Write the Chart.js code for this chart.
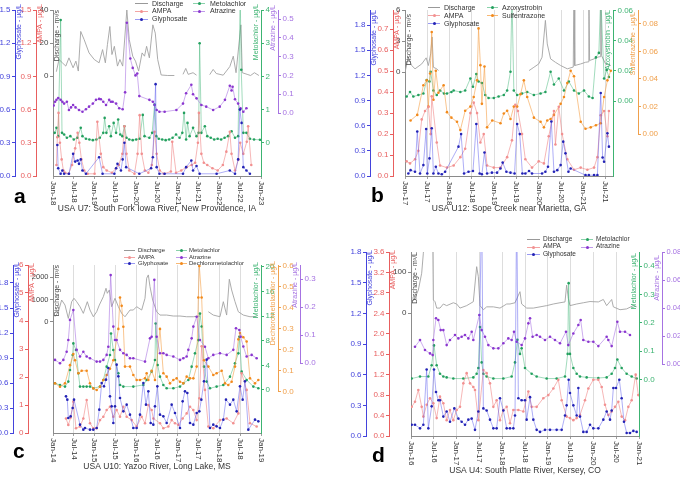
<!DOCTYPE html>
<html><head><meta charset="utf-8">
<script src="https://cdn.jsdelivr.net/npm/chart.js@4.4.1/dist/chart.umd.min.js"></script>
<style>
html,body{margin:0;padding:0;background:#fff;}
body{width:680px;height:477px;position:relative;overflow:hidden;font-family:'Liberation Sans',Arial,sans-serif;}
canvas{position:absolute;}
.tag{position:absolute;font-weight:bold;font-size:21px;line-height:1;color:#000;}
.lg{position:absolute;white-space:nowrap;color:#333;line-height:1;}
.sw{position:absolute;height:1px;}
.dot{position:absolute;width:3px;height:3px;border-radius:50%;}
</style></head><body>
<canvas id="ca" width="300" height="222" style="left:0;top:0"></canvas>
<canvas id="cb" width="340" height="222" style="left:340px;top:0"></canvas>
<canvas id="cc" width="340" height="237" style="left:0;top:240px"></canvas>
<canvas id="cd" width="340" height="237" style="left:340px;top:240px"></canvas>
<div class="tag" style="left:14px;top:185px">a</div>
<div class="tag" style="left:371px;top:184px">b</div>
<div class="tag" style="left:13px;top:440px">c</div>
<div class="tag" style="left:372px;top:444px">d</div>
<script>
// ---------- tick labels ----------
const aXLabels = ['Jan-18','Jul-18','Jan-19','Jul-19','Jan-20','Jul-20','Jan-21','Jul-21','Jan-22','Jul-22','Jan-23'];
const bXLabels = ['Jan-17','Jul-17','Jan-18','Jul-18','Jan-19','Jul-19','Jan-20','Jul-20','Jan-21','Jul-21'];
const cXLabels = ['Jan-14','Jul-14','Jan-15','Jul-15','Jan-16','Jul-16','Jan-17','Jul-17','Jan-18','Jul-18','Jan-19'];
const dXLabels = ['Jan-16','Jul-16','Jan-17','Jul-17','Jan-18','Jul-18','Jan-19','Jul-19','Jan-20','Jul-20','Jan-21'];
const xTicks60 = [0,6,12,18,24,30,36,42,48,54,60];
const xTicks54 = [0,6,12,18,24,30,36,42,48,54];

const aGlyTicks = [0,0.3,0.6,0.9,1.2,1.5], aAmpaTicks = [0,0.3,0.6,0.9,1.2,1.5], aDisTicks = [0,20,40], aMetTicks = [0,1,2,3,4], aAtrTicks = [0,0.1,0.2,0.3,0.4,0.5];
const bGlyTicks = [0,0.3,0.6,0.9,1.2,1.5,1.8], bAmpaTicks = [0,0.1,0.2,0.3,0.4,0.5,0.6,0.7], bDisTicks = [0,3,6], bAzoTicks = [0,0.02,0.04,0.06], bSulTicks = [0,0.02,0.04,0.06,0.08];
const cGlyTicks = [0,0.3,0.6,0.9,1.2,1.5,1.8], cAmpaTicks = [0,1,2,3,4,5,6], cDisTicks = [0,1000,2000], cMetTicks = [0,4,8,12,16,20], cDecTicks = [0,0.1,0.2,0.3,0.4,0.5,0.6], cAtrTicks = [0,0.1,0.2,0.3];
const dGlyTicks = [0,0.3,0.6,0.9,1.2,1.5,1.8], dAmpaTicks = [0,0.4,0.8,1.2,1.6,2.0,2.4,2.8,3.2,3.6], dDisTicks = [0,100], dMetTicks = [0,0.1,0.2,0.3,0.4], dAtrTicks = [0,0.02,0.04,0.06,0.08];

// ---------- panel a (months since Jan-18, value) ----------
const aDischarge = [[0.97,2.6],[1.74,10],[2.7,8],[3.7,6],[4.6,11],[5.8,5],[6.6,9],[7.3,3],[8.0,27],[9.0,22],[10.4,14],[11.9,10],[13.3,8],[14.3,16],[15.1,8],[15.7,19],[16.4,30],[17.0,13],[17.7,18],[18.6,6],[19.3,10],[20.1,6],[21.3,40],[22.0,22],[23.0,12],[23.8,9],[24.7,3],[25.7,14],[26.4,12],[27.0,18],[27.8,11],[28.8,31],[29.5,26],[30.2,10],[31.2,0.6],[33.1,0.3],[35.0,0.3],[35.8,null],[37.5,1],[38.3,4.6],[39.0,1],[40.4,2],[41.4,0.5],[42.5,null],[45.2,0.8],[46.2,4],[47.1,1.5],[49.1,0.5],[51.0,5.7],[52.0,12],[52.8,2],[54.2,31],[54.6,2],[56.0,1],[57.0,0.3],[58.1,2],[59.4,0.3]];
const aAMPA = [[1.0,0.1],[1.25,0.35],[1.6,0.57],[2.0,0.3],[2.5,0.15],[3.0,0.05],[3.5,0.03],[4.5,0.02],[5.5,0.1],[6.4,0.25],[7.1,0.39],[7.6,0.3],[8.2,0.15],[9.0,0.05],[10.0,0.02],[12.0,0.02],[12.8,0.49],[13.8,0.2],[14.5,0.08],[15.5,0.05],[17.0,0.03],[18.2,0.07],[19.0,0.1],[20.0,0.2],[20.6,0.45],[21.2,0.2],[22.0,0.05],[23.5,0.02],[24.4,0.2],[25.0,0.55],[25.6,0.2],[26.5,0.05],[27.5,0.03],[28.5,0.1],[29.3,0.4],[29.9,0.2],[30.8,0.05],[32.0,0.02],[34.0,0.04],[34.4,0.31],[35.5,0.03],[37.0,0.05],[38.5,0.08],[40.0,0.1],[41.0,0.12],[41.8,0.3],[42.1,0.57],[42.8,0.2],[43.5,0.12],[44.5,0.1],[46.0,0.07],[47.5,0.05],[49.0,0.1],[50.0,0.22],[51.0,0.4],[51.5,0.2],[52.5,0.05],[53.5,0.15],[54.0,0.3],[54.9,0.2],[55.9,0.31],[56.3,0.45],[57.2,0.1]];
const aGlyphosate = [[1.25,0.28],[1.5,0.07],[2.2,0.02],[2.7,0.05],[3.2,0.02],[4.6,0.02],[5.8,0.2],[6.4,0.13],[7.1,0.14],[7.5,0.11],[8.0,0.15],[8.5,0.05],[9.5,0.02],[13.3,0.17],[14.3,0.02],[17.7,0.02],[18.2,0.07],[18.6,0.11],[19.6,0.05],[20.1,0.15],[20.6,0.3],[21.1,0.08],[24.9,0.02],[28.3,0.07],[28.8,0.17],[29.6,0.83],[29.9,0.08],[30.7,0.02],[32.2,0.02],[37.5,0.02],[38.4,0.08],[39.9,0.14],[40.4,0.05],[41.4,0.09],[42.3,0.02],[47.2,0.02],[51.0,0.05],[52.5,0.02],[53.4,0.15],[53.9,0.6],[54.4,0.48],[54.9,0.08],[55.8,0.05],[56.8,0.02]];
const aMetolachlor = [[0.5,0.3],[1.0,0.45],[1.5,0.2],[2.2,3.7],[2.6,0.3],[3.2,0.25],[4.0,0.15],[5.0,0.2],[6.0,0.1],[7.0,0.15],[8.0,0.45],[8.5,0.2],[9.5,0.12],[10.5,0.1],[11.5,0.08],[12.5,0.1],[13.5,0.15],[14.5,0.3],[14.9,0.75],[15.4,0.3],[16.2,0.5],[16.7,0.2],[17.5,0.6],[18.2,0.3],[18.8,0.7],[19.4,0.25],[20.0,0.2],[20.6,0.5],[21.2,0.15],[22.0,0.1],[23.0,0.08],[24.0,0.1],[25.0,0.12],[25.9,0.84],[26.4,0.2],[27.8,0.15],[28.6,0.3],[29.3,1.15],[29.8,0.2],[30.5,0.12],[31.5,0.1],[32.5,0.08],[33.5,0.1],[34.5,0.15],[35.5,0.25],[36.5,0.15],[37.3,0.3],[37.8,0.9],[38.4,0.1],[38.8,0.6],[39.4,0.2],[40.4,0.45],[41.4,0.2],[42.0,0.3],[42.3,3.0],[42.8,0.3],[43.8,0.5],[44.5,0.2],[45.5,0.15],[46.5,0.1],[47.5,0.12],[48.5,0.1],[49.5,0.15],[50.5,0.2],[51.5,0.35],[52.5,0.15],[53.4,0.2],[54.0,4.5],[54.3,2.2],[54.9,0.3],[55.8,0.3],[56.8,0.12],[58.0,0.1],[59.7,0.09]];
const aAtrazine = [[0.2,0.04],[0.6,0.06],[1.0,0.07],[1.5,0.08],[2.2,0.07],[2.7,0.06],[3.2,0.05],[4.0,0.06],[4.6,0.016],[5.2,0.03],[5.8,0.043],[6.5,0.03],[7.5,0.016],[8.5,0.007],[9.5,0.02],[10.4,0.034],[11.5,0.05],[12.4,0.07],[13.3,0.075],[13.8,0.073],[14.5,0.06],[15.3,0.043],[16.2,0.07],[16.7,0.06],[17.2,0.06],[18.2,0.05],[19.1,0.025],[20.1,0.02],[20.8,0.11],[21.3,0.48],[22.3,0.29],[23.0,0.24],[23.8,0.2],[24.3,0.21],[24.9,0.09],[27.8,0.07],[28.8,0.06],[29.3,0.043],[29.9,0.016],[30.7,0.007],[32.2,0.007],[35.6,0.016],[37.5,0.05],[38.4,0.105],[39.9,0.15],[40.4,0.1],[41.4,0.078],[42.8,0.043],[44.2,0.034],[46.2,0.016],[48.1,0.034],[49.6,0.07],[51.0,0.145],[51.5,0.12],[51.8,0.14],[52.5,0.073],[53.4,0.05],[54.1,0.025],[54.9,0.007],[55.8,0.025]];

// ---------- panel b (months since Jan-17, value) ----------
const bDischarge = [[0,0],[0.9,1.45],[1.8,0.65],[2.7,0.33],[4.5,0.8],[5.7,1.39],[6.3,0.65],[6.9,1.77],[7.3,3.4],[7.65,0.48],[8.55,0.33],[9.0,0.16],[9.5,null],[33.4,0.16],[34.7,0.48],[36.0,0.8],[36.9,1.45],[37.8,5.0],[38.3,2.73],[39.2,1.29],[40.5,0.96],[41.9,0.65],[43.7,0.33],[45.3,0.5],[45.5,9],[45.7,0.65],[47.3,0.8],[48.6,0.96],[49.3,1.0],[49.5,9],[49.7,1.13],[50.9,1.29],[51.8,1.45],[52.5,1.5],[52.7,9],[52.9,1.61],[54.0,0.8],[55.4,0.65]];
const bAMPA = [[0.45,0.07],[1.35,0.06],[2.7,0.08],[3.6,0.12],[4.5,0.27],[5.4,0.31],[6.3,0.33],[6.9,0.2],[7.2,0.38],[8.55,0.16],[9.45,0.05],[11.3,0.04],[13.1,0.05],[14.9,0.09],[16.2,0.13],[17.6,0.3],[18.5,0.35],[19.4,0.3],[20.3,0.16],[21.2,0.2],[22.1,0.05],[23.9,0.04],[25.7,0.04],[27.5,0.09],[28.8,0.17],[29.7,0.34],[30.4,0.31],[31.5,0.2],[32.4,0.08],[34.2,0.04],[36.0,0.07],[37.4,0.06],[38.7,0.19],[40.1,0.31],[40.5,0.15],[41.4,0.33],[42.3,0.2],[43.7,0.08],[45.5,0.03],[47.3,0.04],[49.1,0.03],[50.9,0.04],[51.8,0.09],[52.7,0.29],[53.6,0.31],[54.5,0.19],[54.9,0.31]];
const bGlyphosate = [[0.9,0.03],[1.5,0.07],[2.7,0.05],[3.3,0.53],[4.05,0.03],[4.95,0.13],[5.7,0.56],[6.0,0.03],[6.6,0.21],[7.2,0.57],[7.65,0.03],[8.3,0.11],[9.0,0.03],[9.9,0.02],[10.8,0.05],[14.4,0.35],[15.1,0.5],[15.9,0.03],[17.1,0.05],[18.3,0.06],[19.2,0.62],[20.1,0.03],[20.7,0.02],[21.4,0.28],[22.1,0.03],[23.4,0.04],[24.8,0.04],[25.7,0.09],[26.3,0.16],[27.3,0.05],[28.4,0.04],[29.5,0.03],[30.2,0.62],[30.9,0.5],[31.6,0.03],[32.4,0.03],[33.4,0.06],[34.2,0.03],[36.9,0.03],[37.8,0.05],[38.5,0.11],[39.4,0.65],[40.1,0.05],[41.0,0.07],[41.9,0.13],[42.6,0.41],[43.2,0.27],[44.0,0.05],[44.6,0.09],[48.6,0.01],[49.5,0.01],[50.9,0.01],[51.8,0.01],[52.7,0.99],[53.2,0.22],[53.6,0.17],[54.5,0.51],[54.9,0.35]];
const bAzoxystrobin = [[0.45,0.003],[1.35,0.006],[2.25,0.003],[3.6,0.004],[4.95,0.005],[5.85,0.014],[6.6,0.013],[6.9,0.0195],[7.65,0.007],[8.55,0.004],[9.45,0.007],[10.5,0.005],[11.3,0.005],[12.5,0.006],[13.1,0.007],[14.9,0.006],[16.2,0.007],[17.6,0.015],[18.3,0.0095],[19.2,0.018],[19.8,0.013],[20.7,0.012],[21.6,0.004],[22.5,0.002],[23.9,0.002],[25.2,0.003],[26.6,0.004],[27.5,0.007],[28.4,0.0195],[28.8,0.07],[29.3,0.007],[30.2,0.004],[31.5,0.005],[32.9,0.006],[34.7,0.004],[36.5,0.005],[37.8,0.006],[39.2,0.0195],[40.1,0.011],[41.4,0.015],[42.8,0.007],[44.1,0.013],[45.5,0.007],[46.8,0.005],[48.2,0.007],[49.5,0.003],[50.5,0.002],[51.4,0.029],[52.2,0.032],[52.7,0.07],[53.6,0.015],[54.3,0.0206],[54.9,0.016]];
const bSulfentrazone = [[1.5,0.01],[3.3,0.014],[4.95,0.0355],[5.86,0.039],[6.3,0.02],[6.76,0.044],[7.2,0.074],[7.66,0.025],[8.3,0.046],[9.0,0.03],[10.4,0.0355],[11.3,0.016],[12.5,0.012],[14.0,0.009],[14.9,0.003],[16.2,0.017],[17.6,0.02],[18.5,0.027],[19.4,0.039],[19.8,0.0766],[20.3,0.05],[20.7,0.022],[21.4,0.049],[22.1,0.005],[23.5,0.01],[25.7,0.008],[26.6,0.015],[27.5,0.017],[28.4,0.011],[29.3,0.02],[30.2,0.02],[31.1,0.029],[32.0,0.039],[32.9,0.027],[34.7,0.012],[36.5,0.009],[37.4,0.005],[38.3,0.01],[39.2,0.011],[40.1,0.014],[41.9,0.022],[42.8,0.027],[43.7,0.037],[44.6,0.046],[45.5,0.042],[47.3,0.009],[48.6,0.004],[50.0,0.005],[51.4,0.0065],[52.7,0.008],[53.6,0.027],[54.5,0.039],[55.4,0.046]];

// ---------- panel c (months since Jan-14, value) ----------
const cDischarge = [[0.58,225],[1.54,450],[2.5,976],[3.46,751],[4.42,150],[5.38,901],[6.06,1054],[6.83,901],[7.79,676],[8.75,376],[9.9,901],[10.67,526],[11.63,225],[12.6,450],[13.36,751],[14.52,1126],[15.29,1504],[15.67,1279],[16.25,1428],[16.92,676],[17.88,1054],[18.85,676],[19.81,376],[20.77,225],[22.21,526],[23.17,526],[24.13,676],[25.58,526],[26.54,1054],[27.02,1955],[27.5,2104],[27.98,1577],[28.75,976],[29.9,450],[30.86,300],[32.79,300],[34.71,257],[36.63,257],[38.56,225],[40.48,225],[42.4,257],[43.2,null],[44.81,450],[46.24,300],[48.17,225],[49.13,901],[50.09,300],[50.86,1910],[51.53,1428],[52.5,901],[53.46,450],[54.9,300],[56.82,225],[58.75,225]];
const cAMPA = [[3.75,0.52],[4.42,0.29],[5.1,0.55],[5.87,1.12],[6.63,0.17],[7.79,0.23],[8.75,0.52],[9.71,1.18],[10.67,0.35],[11.63,0.17],[12.6,0.17],[13.56,0.46],[14.52,0.58],[15.48,0.82],[16.44,0.94],[17.4,0.58],[18.36,0.82],[19.33,0.58],[20.29,0.94],[21.25,0.58],[22.7,0.46],[24.13,0.23],[25.58,0.58],[26.54,0.35],[27.5,1.0],[28.46,0.82],[28.94,0.52],[30.86,0.35],[31.83,0.17],[33.27,0.23],[34.23,0.46],[35.19,0.35],[36.15,0.29],[37.4,0.52],[38.56,0.7],[39.52,0.94],[40.48,0.82],[41.44,0.46],[42.21,1.24],[42.88,3.1],[43.84,1.54],[44.81,0.23],[46.24,0.17],[48.17,0.46],[50.09,0.52],[52.01,0.35],[53.46,0.7],[54.42,2.13],[55.86,1.54],[56.82,0.35],[58.75,0.23]];
const cGlyphosate = [[3.75,0.44],[4.13,0.4],[4.42,0.18],[5.1,0.2],[5.67,0.3],[6.06,0.4],[7.79,0.1],[8.75,0.04],[9.23,0.06],[10.67,0.04],[11.63,0.04],[12.6,0.06],[13.36,0.28],[14.04,0.6],[14.71,0.56],[15.29,0.64],[15.96,0.78],[16.44,0.44],[16.92,0.32],[17.4,0.12],[17.88,0.32],[18.36,0.82],[18.85,0.68],[19.33,0.42],[20.29,0.26],[21.25,0.34],[22.21,0.22],[23.17,0.06],[24.13,0.06],[25.1,0.22],[26.06,0.6],[26.82,0.34],[27.5,0.5],[28.17,0.12],[28.94,0.1],[29.42,0.32],[30.1,0.56],[30.86,0.22],[31.83,0.2],[32.79,0.12],[34.23,0.34],[35.19,0.24],[36.63,0.06],[37.4,0.38],[38.07,0.5],[38.75,0.48],[39.52,0.12],[40.48,0.1],[41.44,0.24],[42.21,0.26],[42.79,0.4],[43.55,0.62],[44.32,0.88],[45.28,0.06],[46.24,0.1],[47.2,0.08],[48.17,0.06],[49.13,0.16],[49.9,0.4],[51.05,0.34],[52.01,0.4],[52.98,0.26],[53.94,0.56],[54.71,0.4],[55.38,0.62],[56.34,0.04],[58.27,0.16],[59.23,0.14]];
const cMetolachlor = [[0.58,1.08],[2.02,0.81],[3.46,0.54],[4.42,1.35],[4.9,3.24],[5.67,5.67],[5.87,7.56],[6.63,6.48],[7.31,2.7],[7.79,0.54],[8.75,0.54],[9.71,0.54],[10.67,0.54],[11.63,0.27],[13.56,0.54],[14.52,1.62],[15.48,3.78],[16.44,5.67],[16.73,9.18],[17.4,6.48],[17.88,4.86],[18.85,2.7],[19.33,0.81],[20.29,0.54],[23.17,0.54],[26.06,0.81],[27.02,1.62],[28.46,2.97],[29.42,4.86],[29.61,10.8],[30.19,4.05],[30.86,2.16],[31.83,0.81],[32.79,0.27],[34.71,0.27],[36.63,0.54],[37.59,1.08],[39.04,1.62],[40.0,3.78],[40.96,5.94],[41.92,8.1],[42.4,12.4],[42.88,10.3],[43.55,3.78],[44.32,1.35],[45.28,0.27],[47.2,0.54],[49.13,0.81],[51.05,2.16],[52.5,4.32],[53.46,5.94],[53.75,8.64],[54.42,2.97],[55.86,1.62],[57.79,0.54],[59.23,0.27]];
const cAtrazine = [[0.58,0.012],[2.02,0.0],[2.98,0.012],[3.94,0.041],[4.42,0.083],[4.9,0.155],[5.87,0.19],[6.83,0.048],[7.79,0.024],[8.75,0.041],[9.71,0.024],[10.67,0.018],[12.6,0.006],[13.56,0.006],[14.52,0.012],[15.48,0.03],[15.96,0.059],[16.63,0.315],[17.4,0.131],[17.88,0.083],[18.36,0.083],[19.33,0.048],[20.29,0.036],[21.25,0.03],[22.21,0.018],[23.17,0.018],[26.54,0.006],[27.98,0.089],[28.46,0.095],[29.23,0.298],[29.9,0.095],[30.86,0.036],[31.83,0.036],[32.79,0.03],[34.71,0.024],[36.63,0.012],[37.59,0.018],[38.56,0.024],[39.04,0.048],[40.0,0.089],[40.48,0.131],[41.44,0.166],[42.4,0.083],[43.84,0.059],[44.81,0.018],[46.24,0.03],[48.17,0.036],[50.09,0.03],[52.01,0.048],[52.78,0.125],[53.75,0.119],[54.13,0.095],[54.9,0.06],[55.86,0.024],[57.31,0.03],[58.75,0.018]];
const cDechlorometolachlor = [[0.58,0.04],[2.02,0.024],[3.46,0.04],[4.9,0.127],[5.87,0.18],[6.35,0.15],[7.31,0.088],[8.27,0.1],[9.71,0.1],[10.67,0.04],[11.63,0.016],[12.6,0.008],[13.56,0.024],[14.52,0.056],[15.48,0.08],[16.44,0.11],[17.4,0.15],[18.85,0.3],[19.33,0.45],[19.81,0.41],[20.29,0.31],[20.77,0.12],[22.21,0.12],[23.17,0.08],[24.13,0.056],[25.1,0.056],[26.54,0.064],[27.02,0.088],[27.5,0.056],[28.46,0.1],[29.42,0.056],[30.86,0.3],[31.83,0.088],[32.79,0.072],[33.75,0.04],[34.71,0.056],[35.67,0.064],[36.63,0.048],[37.59,0.04],[38.56,0.072],[39.52,0.064],[40.48,0.064],[41.44,0.12],[41.92,0.45],[42.21,0.6],[42.88,0.45],[43.55,0.15],[44.81,0.12],[46.24,0.08],[47.2,0.088],[48.65,0.1],[49.61,0.04],[50.57,0.032],[51.53,0.048],[52.5,0.12],[53.46,0.25],[53.94,0.28],[54.9,0.26],[55.86,0.24],[56.82,0.064],[58.27,0.04],[59.23,0.056]];

// ---------- panel d (months since Jan-16, value) ----------
const dDischarge = [[0.18,27.6],[0.79,31.7],[1.93,56],[2.81,97],[3.25,146],[3.68,200],[5.0,220],[5.7,200],[5.88,31.7],[6.32,27.6],[6.75,12],[7.63,12],[8.51,22],[9.39,18],[11.14,25],[12.02,22],[12.89,12],[14.65,18],[16.4,27.6],[17.28,113],[17.72,88.6],[18.16,18],[19.04,8],[19.91,15],[21.67,15],[23.42,12],[25.18,22],[26.05,22],[27.37,25],[28.68,52],[29.12,22],[30.44,12],[32.19,12],[33.95,15],[35.7,18],[37.46,22],[39.21,25],[40.53,27],[40.96,68],[41.4,35.8],[41.84,18],[43.6,22],[45.35,25],[47.11,28],[49.3,27],[50.61,33],[51.49,18],[52.81,33],[53.25,15],[55.0,8],[56.75,10],[58.51,18],[59.39,15]];
const dAMPA = [[0.18,0.57],[1.05,0.67],[1.93,0.9],[2.81,0.57],[3.25,0.38],[4.12,0.61],[5.0,0.74],[5.88,0.64],[6.75,0.35],[7.63,0.77],[8.51,0.64],[9.39,0.31],[10.26,0.51],[11.14,0.31],[12.02,0.51],[12.89,0.57],[13.77,1.03],[14.65,1.23],[15.53,1.03],[16.4,0.96],[16.84,0.9],[17.72,0.31],[19.04,1.29],[19.91,1.23],[20.79,1.03],[21.67,0.57],[22.54,0.7],[23.42,0.31],[24.3,0.51],[25.18,0.57],[26.05,0.25],[26.93,0.51],[28.25,0.51],[29.56,0.48],[30.88,0.87],[31.75,0.57],[33.07,0.57],[34.82,0.74],[36.14,0.8],[37.46,0.93],[38.77,1.1],[39.65,0.7],[40.96,0.38],[41.84,0.35],[42.72,0.31],[43.6,0.35],[44.47,0.41],[45.79,0.7],[46.67,0.93],[47.98,1.1],[49.3,1.1],[50.18,0.96],[51.05,0.61],[51.93,0.41],[52.81,0.48],[53.68,0.57],[54.56,0.67],[55.44,0.38],[56.32,0.31],[57.19,0.57],[58.07,0.7],[59.12,1.2],[59.82,0.8]];
const dGlyphosate = [[0.18,0.11],[1.05,0.11],[2.37,0.075],[3.25,0.11],[4.12,0.65],[4.56,0.075],[5.44,0.29],[6.05,0.65],[6.58,0.43],[7.19,0.35],[7.63,0.35],[8.51,0.19],[9.39,0.24],[10.26,0.14],[11.4,0.27],[12.46,0.17],[13.33,0.14],[14.21,0.11],[15.09,0.16],[15.97,0.17],[16.84,0.06],[17.72,0.24],[18.6,2.3],[19.04,0.27],[19.91,0.25],[20.79,0.16],[21.67,0.075],[22.54,0.075],[23.42,0.37],[24.3,0.25],[25.18,0.075],[26.05,0.075],[26.93,0.075],[27.37,0.2],[27.81,2.3],[28.25,0.37],[29.12,0.35],[30.0,0.35],[30.44,0.16],[31.32,0.38],[32.19,0.16],[33.07,0.06],[33.95,0.04],[35.26,0.06],[36.58,0.06],[38.33,0.06],[39.65,0.06],[40.53,0.2],[40.96,0.3],[41.49,0.55],[41.84,0.42],[42.72,0.3],[43.6,0.2],[44.04,0.47],[44.47,0.19],[45.35,0.04],[46.23,0.04],[47.11,0.11],[47.98,0.075],[49.3,0.075],[50.61,0.16],[51.49,0.24],[52.37,0.16],[52.81,0.25],[53.25,0.47],[53.95,0.47],[54.82,0.55],[55.44,0.37],[56.05,0.14],[56.75,0.03],[57.63,0.03],[58.51,0.05],[59.39,0.04]];
const dMetolachlor = [[0.18,0.003],[2.37,0.01],[4.56,0.01],[5.44,0.05],[6.05,0.12],[6.75,0.05],[7.63,0.02],[8.51,0.01],[9.39,0.007],[11.14,0.003],[13.77,0.003],[16.4,0.007],[17.28,0.02],[17.72,0.04],[18.16,0.185],[18.6,0.06],[19.04,0.02],[19.91,0.01],[21.67,0.003],[24.3,0.003],[26.49,0.01],[27.37,0.06],[28.0,0.14],[28.68,0.09],[29.12,0.11],[30.0,0.04],[31.75,0.02],[33.07,0.01],[35.7,0.003],[38.33,0.003],[40.53,0.01],[41.23,0.09],[41.49,0.34],[41.84,0.09],[42.72,0.04],[43.6,0.02],[44.47,0.01],[46.23,0.007],[49.3,0.005],[51.49,0.007],[52.81,0.02],[53.68,0.04],[54.3,0.07],[55.44,0.04],[56.75,0.02],[58.07,0.01],[59.39,0.003]];
const dAtrazine = [[1.05,0.0125],[2.37,0.0173],[3.68,0.0102],[5.0,0.0078],[5.7,0.0066],[5.88,0.0173],[6.58,0.0328],[7.19,0.0316],[7.81,0.0244],[8.51,0.0244],[9.39,0.0137],[10.26,0.0173],[11.58,0.0209],[12.46,0.0185],[13.33,0.0197],[14.21,0.0209],[15.09,0.0185],[15.97,0.0232],[16.4,0.0173],[17.98,0.0351],[18.6,0.0244],[19.47,0.0197],[20.35,0.0137],[21.67,0.0114],[22.98,0.0114],[24.3,0.015],[25.61,0.0185],[26.49,0.0173],[27.1,0.0232],[27.81,0.0161],[29.12,0.0137],[30.0,0.0185],[30.88,0.0292],[31.32,0.0328],[32.0,0.0197],[33.07,0.0209],[33.95,0.0197],[35.26,0.0173],[36.58,0.0197],[37.89,0.0173],[39.21,0.015],[40.79,0.0232],[41.4,0.0137],[42.72,0.022],[44.04,0.028],[44.65,0.0316],[45.35,0.0173],[46.67,0.0161],[47.98,0.0161],[49.3,0.013],[51.49,0.0197],[51.93,0.0173],[52.81,0.013],[54.3,0.0303],[55.0,0.0232],[56.32,0.0232],[57.63,0.0209]];

// ---------- styles ----------
const FONT = "'Liberation Sans', Arial, sans-serif";
Chart.defaults.font.family = FONT;
const STY = {
  Discharge: {line:'#a3a3a3', pt:null},
  AMPA: {line:'rgba(238,125,125,0.7)', pt:'#f29090'},
  Glyphosate: {line:'rgba(85,85,235,0.6)', pt:'#2323b5'},
  Metolachlor: {line:'rgba(60,180,115,0.6)', pt:'#23a05e'},
  Atrazine: {line:'rgba(165,110,225,0.7)', pt:'#8a36cf'},
  Azoxystrobin: {line:'rgba(60,180,115,0.6)', pt:'#23a05e'},
  Sulfentrazone: {line:'rgba(245,160,70,0.75)', pt:'#f28a1c'},
  Dechlorometolachlor: {line:'rgba(245,160,70,0.75)', pt:'#f28a1c'}
};
const AX = {gly:'#4343dc', ampa:'#e85e5e', dis:'#8c8c8c', met:'#3cb371', atr:'#a673e2', org:'#f0a04c'};

function ds(label, arr, axis) {
  const s = STY[label], dis = label === 'Discharge';
  return {label, yAxisID: axis, data: arr.map(p => ({x: p[0], y: p[1]})),
    borderColor: s.line, borderWidth: dis ? 0.9 : 0.8, pointRadius: dis ? 0 : 1.3,
    pointBackgroundColor: s.pt || s.line, pointBorderWidth: 0, pointHoverRadius: 0,
    tension: 0, spanGaps: false, fill: false};
}
function yAxis(pos, weight, width, min, max, ticks, dec, color, opt) {
  opt = opt || {};
  return {type: 'linear', position: pos, weight, min, max,
    afterBuildTicks: s => { s.ticks = ticks.map(v => ({value: v})); },
    afterFit: s => { s.width = width; },
    ticks: {color: opt.tc || color, font: {size: opt.fs || 8}, padding: 1.5, autoSkip: false,
      callback: v => Number(v).toFixed(dec)},
    grid: {drawOnChartArea: false, drawTicks: true, tickLength: 3, color: color, tickColor: color},
    border: {display: !opt.span, color: color, width: 1},
    title: {display: false}};
}
function xAxis(max, tickVals, height, title, grid, pad) {
  return {type: 'linear', position: 'bottom', min: 0, max,
    afterBuildTicks: s => { s.ticks = tickVals.map(v => ({value: v})); },
    afterFit: s => { s.height = height; },
    ticks: {display: false},
    grid: {display: true, drawOnChartArea: grid, color: '#d4d4d4', lineWidth: 0.8, tickLength: 3, tickColor: '#888'},
    border: {color: '#8a8a8a', width: 1},
    title: {display: true, text: title, color: '#333', font: {size: 8.5}, padding: {top: 0, bottom: pad}}};
}
function deco(cfg) {
  return {id: 'deco', afterDraw(chart) {
    const ctx = chart.ctx, ca = chart.chartArea;
    ctx.save();
    (cfg.spans || []).forEach(sp => {
      const s = chart.scales[sp.id];
      const x = (s.position === 'left' ? s.right : s.left) + 0.5;
      ctx.strokeStyle = sp.color; ctx.lineWidth = 1;
      ctx.beginPath(); ctx.moveTo(x, s.getPixelForValue(s.max)); ctx.lineTo(x, s.getPixelForValue(sp.from)); ctx.stroke();
    });
    cfg.titles.forEach(t => {
      const s = chart.scales[t.id];
      const x = s.position === 'left' ? s.right + 4.5 : s.left - 4.5;
      ctx.save(); ctx.translate(x, ca.top + (t.dy || 0)); ctx.rotate(-Math.PI / 2);
      ctx.font = (t.fs || 7) + 'px ' + FONT; ctx.fillStyle = t.color;
      ctx.textAlign = 'right'; ctx.textBaseline = 'middle';
      ctx.fillText(t.text, 0, 0); ctx.restore();
    });
    const xs = chart.scales.x;
    ctx.font = '8px ' + FONT; ctx.fillStyle = '#333';
    xs.ticks.forEach((tk, i) => {
      ctx.save(); ctx.translate(xs.getPixelForValue(tk.value), xs.top + 5); ctx.rotate(Math.PI / 2);
      ctx.textAlign = 'left'; ctx.textBaseline = 'middle';
      ctx.fillText(cfg.xLabels[i], 0, 0); ctx.restore();
    });
    ctx.restore();
  }};
}
function panel(id, cfg) {
  new Chart(document.getElementById(id), {
    type: 'line',
    data: {datasets: cfg.datasets},
    options: {responsive: false, animation: false, events: [],
      layout: {padding: {top: cfg.top, left: 0, right: 0, bottom: 0}},
      plugins: {legend: {display: false}, tooltip: {enabled: false}},
      scales: Object.assign({x: cfg.x}, cfg.y)},
    plugins: [deco(cfg)]
  });
}
function legend(spec) {
  spec.cols.forEach((col, ci) => {
    const c = spec.pos[ci];
    col.forEach((label, ri) => {
      const y = spec.y0 + ri * spec.dy, st = STY[label];
      const sw = document.createElement('div'); sw.className = 'sw';
      sw.style.cssText = 'left:' + c[0] + 'px;top:' + y + 'px;width:' + c[1] + 'px;background:' + (st.pt ? st.line : '#999');
      document.body.appendChild(sw);
      if (st.pt) {
        const d = document.createElement('div'); d.className = 'dot';
        d.style.cssText = 'left:' + (c[0] + c[1] / 2 - 1.5) + 'px;top:' + (y - 1) + 'px;background:' + st.pt;
        document.body.appendChild(d);
      }
      const t = document.createElement('div'); t.className = 'lg'; t.textContent = label;
      t.style.cssText = 'left:' + c[2] + 'px;top:' + (y - spec.fs / 2) + 'px;font-size:' + spec.fs + 'px';
      document.body.appendChild(t);
    });
  });
}

// ---------- panel a ----------
panel('ca', {top: 10, xLabels: aXLabels,
  x: xAxis(60, xTicks60, 46, 'USA U7: South Fork Iowa River, New Providence, IA', false, 8),
  datasets: [ds('Glyphosate', aGlyphosate, 'gly'), ds('AMPA', aAMPA, 'ampa'), ds('Atrazine', aAtrazine, 'atr'), ds('Metolachlor', aMetolachlor, 'met'), ds('Discharge', aDischarge, 'dis')],
  y: {
    gly: yAxis('left', 3, 15, 0, 1.5, aGlyTicks, 1, AX.gly),
    ampa: yAxis('left', 2, 21, 0, 1.5, aAmpaTicks, 1, AX.ampa),
    dis: yAxis('left', 1, 17, -60.6, 40, aDisTicks, 0, AX.dis, {tc: '#444'}),
    met: yAxis('right', 1, 17, -1, 4, aMetTicks, 0, AX.met),
    atr: yAxis('right', 2, 22, -0.335, 0.548, aAtrTicks, 1, AX.atr, {span: true})},
  spans: [{id: 'atr', from: 0, color: AX.atr}],
  titles: [{id: 'gly', text: 'Glyphosate - µg/L', color: AX.gly, dy: -6}, {id: 'ampa', text: 'AMPA - µg/L', color: AX.ampa, dy: -6},
    {id: 'dis', text: 'Discharge - m³/s', color: '#444', dy: 0}, {id: 'met', text: 'Metolachlor - µg/L', color: AX.met, dy: -6},
    {id: 'atr', text: 'Atrazine - µg/L', color: AX.atr, dy: -5}]});
legend({cols: [['Discharge', 'AMPA', 'Glyphosate'], ['Metolachlor', 'Atrazine']], pos: [[135, 13, 152], [193, 12, 210]], y0: 3, dy: 7.8, fs: 7});

// ---------- panel b ----------
panel('cb', {top: 10, xLabels: bXLabels,
  x: xAxis(56, xTicks54, 46, 'USA U12: Sope Creek near Marietta, GA', true, 8),
  datasets: [ds('Glyphosate', bGlyphosate, 'gly'), ds('AMPA', bAMPA, 'ampa'), ds('Sulfentrazone', bSulfentrazone, 'sul'), ds('Azoxystrobin', bAzoxystrobin, 'azo'), ds('Discharge', bDischarge, 'dis')],
  y: {
    gly: yAxis('left', 3, 30, 0, 1.98, bGlyTicks, 1, AX.gly),
    ampa: yAxis('left', 2, 23, 0, 0.792, bAmpaTicks, 1, AX.ampa),
    dis: yAxis('left', 1, 12, -10, 6, bDisTicks, 0, AX.dis, {tc: '#444'}),
    azo: yAxis('right', 1, 25, -0.0498, 0.0605, bAzoTicks, 2, AX.met),
    sul: yAxis('right', 2, 42, -0.0302, 0.0899, bSulTicks, 2, AX.org, {span: true})},
  spans: [{id: 'sul', from: 0, color: AX.org}],
  titles: [{id: 'gly', text: 'Glyphosate - µg/L', color: AX.gly, dy: 0}, {id: 'ampa', text: 'AMPA - µg/L', color: AX.ampa, dy: 0},
    {id: 'dis', text: 'Discharge - m³/s', color: '#444', dy: 4}, {id: 'azo', text: 'Azoxystrobin - µg/L', color: AX.met, dy: 0},
    {id: 'sul', text: 'Sulfentrazone - µg/L', color: AX.org, dy: 2}]});
legend({cols: [['Discharge', 'AMPA', 'Glyphosate'], ['Azoxystrobin', 'Sulfentrazone']], pos: [[428, 12, 444], [487, 11, 502]], y0: 7, dy: 8, fs: 7});

// ---------- panel c ----------
panel('cc', {top: 25, xLabels: cXLabels,
  x: xAxis(60, xTicks60, 44, 'USA U10: Yazoo River, Long Lake, MS', true, 5),
  datasets: [ds('Glyphosate', cGlyphosate, 'gly'), ds('AMPA', cAMPA, 'ampa'), ds('Atrazine', cAtrazine, 'atr'), ds('Dechlorometolachlor', cDechlorometolachlor, 'dec'), ds('Metolachlor', cMetolachlor, 'met'), ds('Discharge', cDischarge, 'dis')],
  y: {
    gly: yAxis('left', 3, 13, 0, 2.016, cGlyTicks, 1, AX.gly),
    ampa: yAxis('left', 2, 15, 0, 6, cAmpaTicks, 0, AX.ampa),
    dis: yAxis('left', 1, 25, -5000, 2550, cDisTicks, 0, AX.dis, {tc: '#444', fs: 7.5}),
    met: yAxis('right', 1, 17, -7, 20.3, cMetTicks, 0, AX.met),
    dec: yAxis('right', 2, 22, -0.197, 0.605, cDecTicks, 1, AX.org, {span: true}),
    atr: yAxis('right', 3, 40, -0.249, 0.351, cAtrTicks, 1, AX.atr, {span: true})},
  spans: [{id: 'dec', from: 0, color: AX.org}, {id: 'atr', from: 0, color: AX.atr}],
  titles: [{id: 'gly', text: 'Glyphosate - µg/L', color: AX.gly, dy: -3}, {id: 'ampa', text: 'AMPA - µg/L', color: AX.ampa, dy: -2},
    {id: 'dis', text: 'Discharge - m³/s', color: '#444', dy: 0}, {id: 'met', text: 'Metolachlor - µg/L', color: AX.met, dy: -3},
    {id: 'dec', text: 'Dechlorometolachlor - µg/L', color: AX.org, dy: -4}, {id: 'atr', text: 'Atrazine - µg/L', color: AX.atr, dy: -3}]});
legend({cols: [['Discharge', 'AMPA', 'Glyphosate'], ['Metolachlor', 'Atrazine', 'Dechlorometolachlor']], pos: [[124, 11, 138], [176, 11, 189]], y0: 250, dy: 6.7, fs: 6});

// ---------- panel d ----------
panel('cd', {top: 12, xLabels: dXLabels,
  x: xAxis(60, xTicks60, 41, 'USA U4: South Platte River, Kersey, CO', true, 1),
  datasets: [ds('Glyphosate', dGlyphosate, 'gly'), ds('AMPA', dAMPA, 'ampa'), ds('Atrazine', dAtrazine, 'atr'), ds('Metolachlor', dMetolachlor, 'met'), ds('Discharge', dDischarge, 'dis')],
  y: {
    gly: yAxis('left', 3, 26, 0, 1.8, dGlyTicks, 1, AX.gly),
    ampa: yAxis('left', 2, 23, 0, 3.6, dAmpaTicks, 1, AX.ampa),
    dis: yAxis('left', 1, 22, -300, 148.8, dDisTicks, 0, AX.dis, {tc: '#444'}),
    met: yAxis('right', 1, 23, -0.2, 0.45, dMetTicks, 1, AX.met),
    atr: yAxis('right', 2, 18, -0.051, 0.08, dAtrTicks, 2, AX.atr, {span: true, fs: 7.5})},
  spans: [{id: 'atr', from: 0, color: AX.atr}],
  titles: [{id: 'gly', text: 'Glyphosate - µg/L', color: AX.gly, dy: -2}, {id: 'ampa', text: 'AMPA - µg/L', color: AX.ampa, dy: -2},
    {id: 'dis', text: 'Discharge - m³/L', color: '#444', dy: 0}, {id: 'met', text: 'Metolachlor - µg/L', color: AX.met, dy: 1},
    {id: 'atr', text: 'Atrazine - µg/L', color: AX.atr, dy: 3}]});
legend({cols: [['Discharge', 'AMPA', 'Glyphosate'], ['Metolachlor', 'Atrazine']], pos: [[527, 13, 543], [581, 12, 596]], y0: 239, dy: 7.5, fs: 6.5});
</script>
</body></html>
